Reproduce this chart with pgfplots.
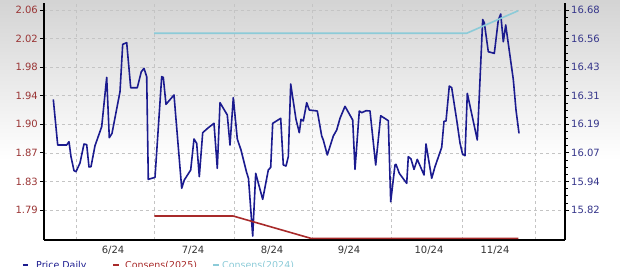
\documentclass[border=0pt]{standalone}
\usepackage{fontspec}
\setmainfont{DejaVu Sans}
\usepackage{pgfplots}
\pgfplotsset{compat=1.18}
\definecolor{navyline}{HTML}{1B1B8F}
\definecolor{redline}{HTML}{A82A2A}
\definecolor{ltblue}{HTML}{8CCBD8}
\definecolor{leftlab}{HTML}{9A3535}
\definecolor{rightlab}{HTML}{35358A}
\definecolor{xlab}{HTML}{333333}
\definecolor{gridc}{HTML}{C4C4C4}
\pgfplotstableread{
x y
53.3 1.9394
57.7 1.8778
66.7 1.8778
69.0 1.8822
71.0 1.8620
74.0 1.8431
76.0 1.8417
80.0 1.8535
84.0 1.8791
86.7 1.8782
89.0 1.8481
91.0 1.8485
95.0 1.8768
101.7 1.9025
106.7 1.9691
109.3 1.8876
112.0 1.8935
120.0 1.9497
122.7 2.0137
126.7 2.0159
130.7 1.9551
137.3 1.9551
141.3 1.9767
144.0 1.9813
146.7 1.9700
148.3 1.8314
155.0 1.8341
161.7 1.9700
163.3 1.9691
166.0 1.9327
174.0 1.9453
181.7 1.8193
184.3 1.8305
190.7 1.8440
194.0 1.8859
196.7 1.8800
199.3 1.8350
202.7 1.8944
208.3 1.9011
214.0 1.9070
217.3 1.8463
220.0 1.9349
227.3 1.9183
230.0 1.8778
233.3 1.9416
237.3 1.8859
241.0 1.8710
246.5 1.8413
248.5 1.8325
252.7 1.7549
255.7 1.8395
262.7 1.8044
268.3 1.8440
270.7 1.8476
272.7 1.9070
280.7 1.9138
283.3 1.8508
286.0 1.8494
288.3 1.8620
290.7 1.9601
296.0 1.9124
299.3 1.8944
301.0 1.9124
303.3 1.9102
306.7 1.9349
309.3 1.9250
317.3 1.9237
321.7 1.8899
323.3 1.8845
327.3 1.8643
333.3 1.8899
336.7 1.8980
340.0 1.9138
345.0 1.9300
352.7 1.9115
355.0 1.8449
359.3 1.9237
361.7 1.9214
366.0 1.9241
370.0 1.9237
375.7 1.8508
380.7 1.9173
388.3 1.9106
390.7 1.8012
395.0 1.8508
396.0 1.8517
399.3 1.8395
406.7 1.8260
408.3 1.8620
411.0 1.8589
414.0 1.8449
417.3 1.8584
424.0 1.8373
426.0 1.8791
431.7 1.8328
435.0 1.8485
441.7 1.8746
444.0 1.9097
446.0 1.9102
449.3 1.9574
451.7 1.9551
456.7 1.9115
460.0 1.8805
462.5 1.8656
465.0 1.8633
467.3 1.9475
477.3 1.8845
482.7 2.0472
484.3 2.0429
488.3 2.0037
494.3 2.0015
498.3 2.0465
500.7 2.0546
503.3 2.0172
505.7 2.0398
513.3 1.9662
516.0 1.9250
519.0 1.8935
}\pricedata
\pgfplotstableread{
x y
154.3 15.794
233.3 15.794
311.0 15.698
518.3 15.698
}\consA
\pgfplotstableread{
x y
154.0 16.580
466.7 16.580
518.3 16.677
}\consB
\begin{document}
\fontsize{10bp}{12bp}\selectfont
\begin{tikzpicture}
\path[use as bounding box] (-44bp,-27bp) rectangle (576bp,240bp);
\shade[top color=black!17, bottom color=white] (-44bp,80bp) rectangle (576bp,240bp);
\begin{axis}[
  at={(0,0)}, anchor=south west, scale only axis,
  width=521bp, height=237bp,
  xmin=44, xmax=565, ymin=1.7495, ymax=2.0695,
  axis x line*=bottom, axis y line*=left,
  axis line style={black, line width=1.4bp, -},
  ytick={1.79,1.828571,1.867143,1.905714,1.944286,1.982857,2.021429,2.06},
  yticklabels={1.79,1.83,1.87,1.90,1.94,1.98,2.02,2.06},
  xtick={113,193,272,349,429,495},
  xticklabels={6/24,7/24,8/24,9/24,10/24,11/24},
  minor xtick={76,154,234,312,391,462,535},
  ymajorgrids, xminorgrids,
  major grid style={gridc, dashed, line width=0.5bp},
  minor grid style={gridc, dashed, line width=0.5bp},
  xtick style={draw=none},
  minor x tick style={draw=none},
  ytick style={black, line width=0.8bp},
  tick align=outside, major tick length=4bp,
  tick label style={font=\fontsize{10bp}{12bp}\selectfont},
  yticklabel style={leftlab, inner sep=0pt, anchor=east, xshift=-2bp},
  xticklabel style={xlab, inner sep=0pt, anchor=north, yshift=-2bp},
  clip=false,
]
\addplot[navyline, line width=1.6bp, line join=round, no markers] table[x=x,y=y] {\pricedata};
\end{axis}
\begin{axis}[
  at={(0,0)}, anchor=south west, scale only axis,
  width=521bp, height=237bp,
  xmin=44, xmax=565, ymin=15.691, ymax=16.7101,
  axis x line=none, axis y line*=right,
  axis line style={black, line width=1.4bp, -},
  ytick={15.82,15.942857,16.065714,16.188571,16.311429,16.434286,16.557143,16.68},
  yticklabels={15.82,15.94,16.07,16.19,16.31,16.43,16.56,16.68},
  minor y tick num=3,
  ytick style={black, line width=0.8bp},
  minor y tick style={black, line width=0.6bp},
  tick align=outside, major tick length=4bp, minor tick length=2.5bp,
  tick label style={font=\fontsize{10bp}{12bp}\selectfont},
  yticklabel style={rightlab, inner sep=0pt, anchor=west, xshift=2bp},
  clip=false,
]
\addplot[redline, line width=1.6bp, no markers] table[x=x,y=y] {\consA};
\addplot[ltblue, line width=1.6bp, no markers] table[x=x,y=y] {\consB};
\end{axis}
\begin{scope}[font=\fontsize{9.5bp}{11bp}\selectfont]
\draw[navyline, line width=2.5bp] (-21bp,-25bp) -- (-15.5bp,-25bp);
\node[navyline, anchor=base west, inner sep=0pt] at (-8bp,-28.6bp) {Price Daily};
\draw[redline, line width=2.5bp] (69bp,-25bp) -- (74.5bp,-25bp);
\node[redline, anchor=base west, inner sep=0pt] at (81bp,-28.6bp) {Consens(2025)};
\draw[ltblue, line width=2.5bp] (169bp,-25bp) -- (174.5bp,-25bp);
\node[ltblue, anchor=base west, inner sep=0pt] at (178bp,-28.6bp) {Consens(2024)};
\end{scope}
\end{tikzpicture}
\end{document}
